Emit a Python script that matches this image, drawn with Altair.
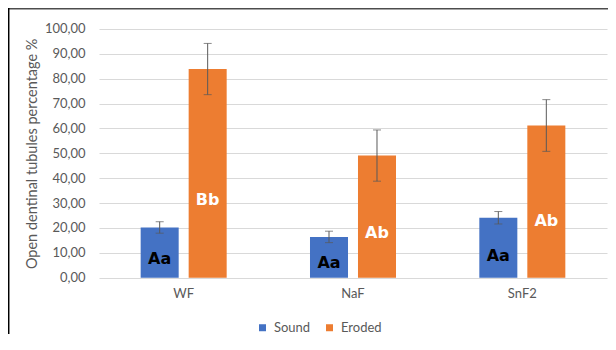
import altair as alt
import pandas as pd

groups = ["WF", "NaF", "SnF2"]
series = ["Sound", "Eroded"]
sound = [20.2, 16.4, 24.1]
sound_err = [2.3, 2.3, 2.5]
eroded = [83.9, 49.1, 61.2]
eroded_err = [10.3, 10.3, 10.4]
sound_labels = ["Aa", "Aa", "Aa"]
eroded_labels = ["Bb", "Ab", "Ab"]
colors = ["#4472C4", "#ED7D31"]
text_colors = ["#000000", "#FFFFFF"]

rows = []
for i, g in enumerate(groups):
    rows.append(dict(group=g, series="Sound", value=sound[i], err=sound_err[i],
                     label=sound_labels[i], tcol=text_colors[0]))
    rows.append(dict(group=g, series="Eroded", value=eroded[i], err=eroded_err[i],
                     label=eroded_labels[i], tcol=text_colors[1]))
df = pd.DataFrame(rows)

FONT = "Lato"
GRAY = "#595959"

x = alt.X("group:N", sort=groups, scale=alt.Scale(paddingInner=0, paddingOuter=0),
          axis=alt.Axis(title=None, labelAngle=0, ticks=False, domain=False,
                        labelPadding=10, labelFontSize=13, labelColor=GRAY, labelFont=FONT))
xoff = alt.XOffset("series:N", sort=series,
                   scale=alt.Scale(domain=series, paddingInner=0.208, paddingOuter=0.868))
yscale = alt.Scale(domain=[0, 100], nice=False)

yaxis = alt.Axis(title="Open dentinal tubules percentage %",
                 values=list(range(0, 101, 10)),
                 labelExpr="replace(format(datum.value, '.2f'), '.', ',')",
                 labelOverlap=False,
                 ticks=False, domain=False, gridColor="#D9D9D9", gridWidth=1,
                 labelPadding=14, labelFontSize=13, labelColor=GRAY, labelFont=FONT,
                 titleFont=FONT, titleFontSize=14.5, titleFontWeight="normal",
                 titleColor=GRAY, titlePadding=5)

base = alt.Chart(df).encode(x=x, xOffset=xoff)

bars = base.mark_bar().encode(
    y=alt.Y("value:Q", scale=yscale, axis=yaxis),
    color=alt.Color("series:N", sort=series,
                    scale=alt.Scale(domain=series, range=colors),
                    legend=alt.Legend(title=None, orient="none", direction="horizontal",
                                      legendX=157, legendY=292, symbolType="square",
                                      symbolSize=49, symbolStrokeWidth=0,
                                      labelFont=FONT, labelFontSize=13, labelColor=GRAY,
                                      labelOffset=5, columnPadding=12)),
)

err_rule = base.transform_calculate(
    lo="datum.value - datum.err", hi="datum.value + datum.err"
).mark_rule(color=GRAY, strokeWidth=1).encode(
    y=alt.Y("lo:Q", scale=yscale, axis=yaxis), y2="hi:Q")

cap_lo = base.transform_calculate(lo="datum.value - datum.err").mark_tick(
    color=GRAY, thickness=1, size=8, orient="horizontal").encode(
    y=alt.Y("lo:Q", scale=yscale, axis=yaxis))
cap_hi = base.transform_calculate(hi="datum.value + datum.err").mark_tick(
    color=GRAY, thickness=1, size=8, orient="horizontal").encode(
    y=alt.Y("hi:Q", scale=yscale, axis=yaxis))

labels = base.transform_calculate(ly="datum.value * 0.37").mark_text(
    font="DejaVu Sans", fontSize=16, fontWeight=900, baseline="middle", align="center"
).encode(y=alt.Y("ly:Q", scale=yscale, axis=yaxis), text="label:N",
         color=alt.Color("tcol:N", scale=None))

frame_data = alt.Data(values=[{"a": 1}])
frame_top = alt.Chart(frame_data).mark_rule(color="#4D4D4D", strokeWidth=1.5).encode(
    x=alt.value(-91), x2=alt.value(520), y=alt.value(-20.3))
frame_left = alt.Chart(frame_data).mark_rule(color="#000000", strokeWidth=1.5).encode(
    x=alt.value(-90.3), y=alt.value(-21), y2=alt.value(340))

chart = alt.layer(bars, err_rule, cap_lo, cap_hi, labels, frame_top, frame_left).properties(
    width=508, height=248.7,
    autosize=alt.AutoSizeParams(type="none"),
    padding={"left": 91, "top": 21, "right": 1, "bottom": 56},
).resolve_scale(color="independent").configure(
    background="white", view=alt.ViewConfig(stroke=None))

chart.save("out.html", embed_options={"renderer": "svg", "actions": False})
